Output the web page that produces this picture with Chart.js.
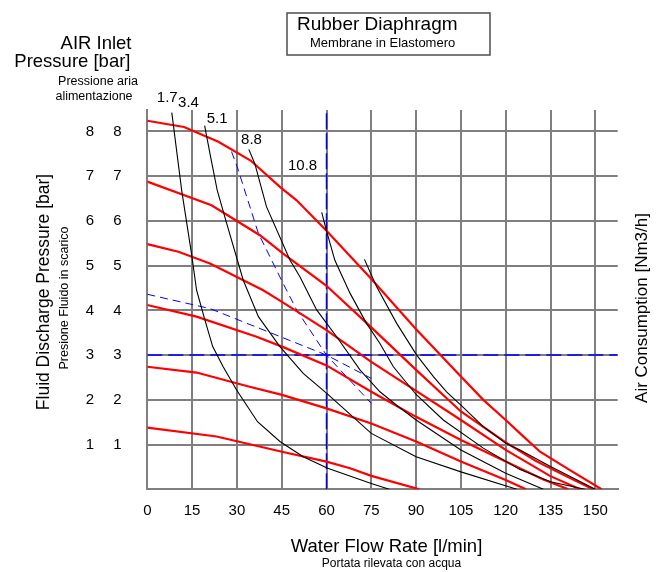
<!DOCTYPE html>
<html>
<head>
<meta charset="utf-8">
<title>Rubber Diaphragm - pump curve</title>
<script src="https://cdn.jsdelivr.net/npm/chart.js@4.4.1/dist/chart.umd.min.js"></script>
<style>
  html, body { margin: 0; padding: 0; background: #fff; }
  canvas { display: block; }
</style>
</head>
<body>
<canvas id="pump_chart" width="660" height="572"></canvas>
<script>
const flowTicks = [0, 15, 30, 45, 60, 75, 90, 105, 120, 135, 150];
const pressTicks = [1, 2, 3, 4, 5, 6, 7, 8];

// fluid pressure vs flow, one red curve per air inlet pressure (highest first)
const red1Flow = [0, 12.3, 23.8, 34.6, 44.4, 50, 60, 74.8, 90, 105, 112.5, 120, 124.8, 131.5, 141.5, 152.1];
const red1Press = [8.24, 8.10, 7.77, 7.35, 6.76, 6.46, 5.78, 4.72, 3.58, 2.52, 2.0, 1.55, 1.25, 0.84, 0.43, 0];
const red2Flow = [0, 21.5, 37.7, 45.5, 60, 75, 90, 105, 120, 130, 140, 149.3];
const red2Press = [6.88, 6.35, 5.68, 5.27, 4.55, 3.62, 2.67, 1.74, 1.05, 0.64, 0.30, 0];
const red3Flow = [0, 10.4, 21, 38.8, 45.1, 60, 75, 90, 105, 120, 134.8, 144.9];
const red3Press = [5.48, 5.31, 5.05, 4.45, 4.19, 3.56, 2.85, 2.2, 1.55, 0.88, 0.30, 0];
const red4Flow = [0, 16.5, 36.6, 45.1, 60, 75, 90, 105, 120, 132.6, 141];
const red4Press = [4.12, 3.86, 3.41, 3.19, 2.77, 2.18, 1.62, 1.10, 0.62, 0.22, 0];
const red5Flow = [0, 16.5, 33.3, 45.1, 60, 75, 90, 105, 120, 126.8];
const red5Press = [2.74, 2.61, 2.31, 2.11, 1.81, 1.47, 1.07, 0.62, 0.21, 0];
const red6Flow = [0, 23.2, 45.1, 60, 67.9, 75, 91.1];
const red6Press = [1.38, 1.18, 0.84, 0.62, 0.47, 0.30, 0];

// air consumption curves (black)
const consLabels = ["1.7", "3.4", "5.1", "8.8", "10.8"];
const consLabelFlow = [3.2, 10.3, 19.9, 31.4, 47.1];
const consLabelPress = [8.66, 8.55, 8.19, 7.71, 7.14];
const consAFlow = [8.2, 11.5, 14.8, 16.5, 19.3, 21.9, 25.4, 29.9, 36.9, 44.4, 52.2, 60.4, 75, 81];
const consAPress = [8.42, 6.69, 5.27, 4.45, 3.78, 3.19, 2.74, 2.22, 1.51, 1.07, 0.73, 0.47, 0.13, 0];
const consBFlow = [19.2, 21, 23.4, 26.6, 32.1, 37.2, 44.4, 52.2, 60, 75, 90, 105, 123.7];
const consBPress = [8.13, 7.50, 6.69, 5.94, 4.68, 3.86, 3.19, 2.59, 2.15, 1.25, 0.73, 0.39, 0];
const consCFlow = [34, 36, 39.9, 47.8, 51.1, 56.7, 63.4, 71.2, 77.9, 84, 90, 105, 120, 132.6];
const consCPress = [7.60, 7.28, 6.32, 5.12, 4.75, 4.01, 3.41, 2.67, 2.18, 1.85, 1.55, 0.88, 0.36, 0];
const consDFlow = [58.4, 60, 62.8, 67.9, 73.4, 77.9, 82.4, 90, 99.1, 112.5, 124.8, 135, 146.5];
const consDPress = [6.19, 5.78, 5.12, 4.38, 3.71, 3.26, 2.74, 2.12, 1.55, 0.92, 0.44, 0.17, 0];
const consEFlow = [72.7, 76.8, 83.5, 90.2, 95.8, 100.2, 105, 112.5, 120, 124.8, 135, 150];
const consEPress = [5.14, 4.53, 3.71, 3.0, 2.52, 2.18, 1.88, 1.40, 1.03, 0.88, 0.51, 0];

// operating point guides (blue)
const opFlow = 60;
const opPress = 3;
const guide1Flow = [28.2, 30.1, 37.2, 45.5, 50, 60, 75];
const guide1Press = [7.55, 7.21, 5.72, 4.60, 4.01, 3.0, 1.92];
const guide2Flow = [0, 21, 60, 75];
const guide2Press = [4.36, 4.04, 3.0, 2.48];

const X_MAX = 157.5;
const Y_MAX = 8.48;
const FONT = "'Liberation Sans', Arial, sans-serif";

Chart.defaults.font.family = FONT;
Chart.defaults.color = "#000";

function pts(xs, ys) {
  return xs.map((v, i) => ({ x: v, y: ys[i] }));
}

function line(data, color, width, dash) {
  return {
    data: data,
    borderColor: color,
    borderWidth: width,
    borderDash: dash || [],
    pointRadius: 0,
    tension: 0,
    fill: false,
  };
}

const redCurves = [
  [red1Flow, red1Press], [red2Flow, red2Press], [red3Flow, red3Press],
  [red4Flow, red4Press], [red5Flow, red5Press], [red6Flow, red6Press],
];
const blackCurves = [
  [consAFlow, consAPress], [consBFlow, consBPress], [consCFlow, consCPress],
  [consDFlow, consDPress], [consEFlow, consEPress],
];

const datasets = [];
blackCurves.forEach(c => datasets.push(line(pts(c[0], c[1]), "#000000", 1.1)));
redCurves.forEach(c => datasets.push(line(pts(c[0], c[1]), "#ff0000", 2.2)));
datasets.push(line(pts([opFlow, opFlow], [0, Y_MAX]), "#0000ff", 1.5, [16, 4]));
datasets.push(line(pts([0, X_MAX], [opPress, opPress]), "#0000ff", 1.5, [15, 6]));
datasets.push(line(pts(guide1Flow, guide1Press), "#0000ff", 1, [8, 5]));
datasets.push(line(pts(guide2Flow, guide2Press), "#0000ff", 1, [8, 5]));

function vText(ctx, text, x, y, size) {
  ctx.save();
  ctx.translate(x, y);
  ctx.rotate(-Math.PI / 2);
  ctx.font = size + "px " + FONT;
  ctx.textAlign = "center";
  ctx.textBaseline = "middle";
  ctx.fillText(text, 0, 0);
  ctx.restore();
}

const pumpTexts = {
  id: "pumpTexts",
  afterDraw(chart) {
    const ctx = chart.ctx;
    const x = chart.scales.x;
    const y = chart.scales.y;
    ctx.save();
    ctx.fillStyle = "#000";

    // title box
    ctx.strokeStyle = "#4d4d4d";
    ctx.lineWidth = 1.5;
    ctx.strokeRect(287, 13, 203, 42);
    ctx.textAlign = "left";
    ctx.textBaseline = "alphabetic";
    ctx.font = "19px " + FONT;
    ctx.fillText("Rubber Diaphragm", 297, 30);
    ctx.font = "13px " + FONT;
    ctx.fillText("Membrane in Elastomero", 310, 46.5);

    // air inlet pressure header
    ctx.textAlign = "right";
    ctx.font = "18.5px " + FONT;
    ctx.fillText("AIR Inlet", 131.5, 48.5);
    ctx.fillText("Pressure [bar]", 130.5, 66.5);
    ctx.textAlign = "center";
    ctx.font = "12.5px " + FONT;
    ctx.fillText("Pressione aria", 98, 85);
    ctx.fillText("alimentazione", 94, 100);

    // air consumption labels
    ctx.textAlign = "left";
    ctx.font = "15px " + FONT;
    consLabels.forEach((t, i) => {
      ctx.fillText(t, x.getPixelForValue(consLabelFlow[i]), y.getPixelForValue(consLabelPress[i]));
    });

    // axis titles
    ctx.textAlign = "center";
    ctx.font = "18.5px " + FONT;
    ctx.fillText("Water Flow Rate [l/min]", 386.5, 551.5);
    ctx.font = "12px " + FONT;
    ctx.fillText("Portata rilevata con acqua", 391.5, 567);
    ctx.restore();

    vText(ctx, "Fluid Discharge Pressure [bar]", 44, 292, 17.5);
    vText(ctx, "Presione Fluido in scarico", 65, 298, 12.5);
    vText(ctx, "Air Consumption [Nm3/h]", 642, 308, 17);
  },
};

const gridStyle = { color: "#7f7f7f", lineWidth: 2, drawTicks: false };
const borderStyle = { color: "#7f7f7f", width: 2 };

const config = {
  type: "line",
  data: { datasets: datasets },
  options: {
    responsive: false,
    devicePixelRatio: 1,
    animation: false,
    events: [],
    layout: { padding: { top: 110, right: 42.3, bottom: 0, left: 0 } },
    plugins: { legend: { display: false }, tooltip: { enabled: false } },
    scales: {
      x: {
        type: "linear",
        min: 0,
        max: X_MAX,
        afterBuildTicks: a => { a.ticks = flowTicks.map(v => ({ value: v })); },
        afterFit: a => { a.height = 82.7; },
        grid: gridStyle,
        border: borderStyle,
        ticks: { font: { size: 15 }, padding: 13, maxRotation: 0, autoSkip: false },
      },
      y: {
        type: "linear",
        position: "left",
        weight: 0,
        min: 0,
        max: Y_MAX,
        afterBuildTicks: a => { a.ticks = pressTicks.map(v => ({ value: v })); },
        afterFit: a => { a.width = 40; },
        grid: gridStyle,
        border: borderStyle,
        ticks: { font: { size: 15 }, padding: 25.8, crossAlign: "center", autoSkip: false },
      },
      y2: {
        type: "linear",
        position: "left",
        weight: 1,
        min: 0,
        max: Y_MAX,
        afterBuildTicks: a => { a.ticks = pressTicks.map(v => ({ value: v })); },
        afterFit: a => { a.width = 107.3; },
        grid: { display: false, drawTicks: false },
        border: { display: false },
        ticks: { font: { size: 15 }, padding: 13.1, crossAlign: "center", autoSkip: false },
      },
    },
  },
  plugins: [pumpTexts],
};

const pump_chart = new Chart(document.getElementById("pump_chart"), config);
</script>
</body>
</html>
